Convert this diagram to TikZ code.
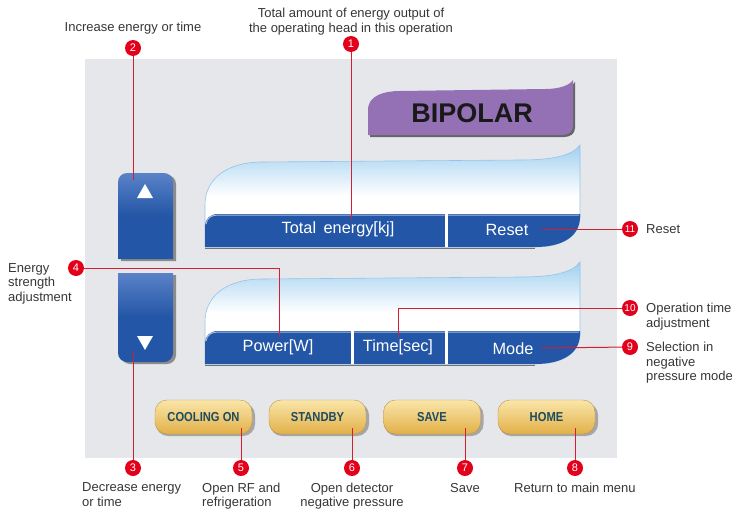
\documentclass[tikz,border=0pt]{standalone}
\usepackage{fontspec}
\setmainfont{Liberation Sans}
\newfontfamily\btnfont[FakeStretch=0.86]{Liberation Sans}
\definecolor{panel}{RGB}{230,231,235}
\definecolor{mred}{RGB}{226,0,26}
\definecolor{lred}{RGB}{214,30,50}
\definecolor{txtgray}{RGB}{55,55,55}
\definecolor{barblue}{RGB}{35,86,166}
\definecolor{btnlight}{RGB}{90,130,200}
\definecolor{dispblue}{RGB}{160,208,240}
\definecolor{dispedge}{RGB}{150,195,232}
\definecolor{purp}{RGB}{148,112,180}
\definecolor{gold1}{RGB}{250,230,170}
\definecolor{gold2}{RGB}{226,176,72}
\definecolor{gold3}{RGB}{190,150,70}
\definecolor{btntext}{RGB}{30,75,95}
\begin{document}
\begin{tikzpicture}[x=1pt,y=-1pt,
  font=\fontsize{13}{14.5}\selectfont,
  marker/.style={circle, fill=mred, inner sep=0pt, minimum size=16pt, text=white, font=\fontsize{11}{11}\selectfont},
  lbl/.style={text=txtgray, inner sep=0pt},
  conn/.style={draw=lred, line width=1pt},
  gbtn/.style={rounded corners=12pt, top color=gold1, bottom color=gold2, draw=gold3, line width=0.4pt, minimum width=97pt, minimum height=34pt, text=btntext, font=\btnfont\bfseries\fontsize{13}{13}\selectfont},
  bartext/.style={text=white, font=\fontsize{16.3}{16}\selectfont, inner sep=0pt},
  shadowc/.style={fill=black!45}
]
\useasboundingbox (0,0) rectangle (735,508);
\fill[white] (0,0) rectangle (735,508);
\fill[panel] (85,59) rectangle (617,458);

% BIPOLAR
\fill[black!60] (370,137) -- (370,112) .. controls (370,97) and (387,93) .. (402,93) -- (547,91) .. controls (562,91) and (572,87) .. (575,82) -- (575,128) .. controls (575,134) and (570,137) .. (564,137) -- cycle;
\fill[purp] (368,135) -- (368,110) .. controls (368,95) and (385,91) .. (400,91) -- (545,89) .. controls (560,89) and (570,85) .. (573,80) -- (573,126) .. controls (573,132) and (568,135) .. (562,135) -- cycle;
\node[inner sep=0pt, text=black!90, font=\bfseries\fontsize{27}{27}\selectfont] (bip) at (472,113) {BIPOLAR};

% displays
\foreach \dy in {0,117} {
\begin{scope}[shift={(0,\dy)}]
\path[top color=dispblue, bottom color=white, middle color=white, draw=dispedge, line width=0.6pt] (205,247) -- (205,205) .. controls (205,178) and (228,162) .. (262,162) -- (520,160) .. controls (552,160) and (572,156) .. (580,145) -- (580,218) .. controls (579,238) and (560,247) .. (535,247) -- cycle;
\fill[barblue] (205,247) -- (205,226) .. controls (205,219) and (210,214) .. (218,214) -- (580,214) -- (580,218) .. controls (579,238) and (560,247) .. (535,247) -- cycle;
\draw[white!60!barblue, line width=1pt] (206,224) .. controls (207,218) and (211,215) .. (218,215) -- (579,215);
\draw[black!55, line width=1.2pt] (205,248.5) -- (535,248.5);
\end{scope}
}
\fill[white] (444.5,214) rectangle (447.5,247);
\fill[white] (444.5,331) rectangle (447.5,364);
\fill[white] (350.5,331) rectangle (353.5,364);

\node[bartext] (te) at (338,229) {Total\hspace{3pt} energy[kj]};
\node[bartext] (rs) at (507,230) {Reset};
\node[bartext] (pw) at (278,347) {Power[W]};
\node[bartext] (tm) at (398,347) {Time[sec]};
\node[bartext] (md) at (513,349) {Mode};

% up / down buttons
\fill[shadowc] (121,261) {[rounded corners=9pt] -- (121,175) -- (176,175)} -- (176,261) -- cycle;
\path[top color=btnlight, bottom color=barblue, middle color=barblue] (118,259) {[rounded corners=9pt] -- (118,173) -- (173,173)} -- (173,259) -- cycle;
\fill[white] (145,184) -- (137,198) -- (153,198) -- cycle;
\fill[shadowc] (121,275) -- (176,275) {[rounded corners=9pt] -- (176,364) -- (121,364)} -- cycle;
\path[top color=btnlight, bottom color=barblue, middle color=barblue] (118,273) -- (173,273) {[rounded corners=9pt] -- (173,362) -- (118,362)} -- cycle;
\fill[white] (137,336) -- (153,336) -- (145,350) -- cycle;

% bottom buttons
\foreach \cx in {203.5,317.5,432,546.5} {
  \fill[black!35, rounded corners=12pt] (\cx-47.5,403) rectangle (\cx+51.5,436);
}
\node[gbtn] (b1) at (203.5,417) {COOLING ON};
\node[gbtn] (b2) at (317.5,417) {STANDBY};
\node[gbtn] (b3) at (432,417) {SAVE};
\node[gbtn] (b4) at (546.5,417) {HOME};

% target points
\coordinate (t1) at (351,220);
\coordinate (t2) at (133,180);
\coordinate (t3) at (133,351);
\coordinate (t4) at (279,337);
\coordinate (t5) at (241,428);
\coordinate (t6) at (352,428);
\coordinate (t7) at (465,428);
\coordinate (t8) at (575,428);
\coordinate (t9) at (542,348);
\coordinate (t10) at (398,337);
\coordinate (t11) at (542,229);

% markers
\node[marker] (m1) at (351,44) {1};
\node[marker] (m2) at (133,48) {2};
\node[marker] (m3) at (133,468) {3};
\node[marker] (m4) at (76,268) {4};
\node[marker] (m5) at (241,468) {5};
\node[marker] (m6) at (352,468) {6};
\node[marker] (m7) at (465,468) {7};
\node[marker] (m8) at (575,468) {8};
\node[marker] (m9) at (630,347) {9};
\node[marker, font=\fontsize{10}{10}\selectfont] (m10) at (630,308) {10};
\node[marker, font=\fontsize{10}{10}\selectfont] (m11) at (630,229) {11};

% connectors
\draw[conn] (m1) -- (t1);
\draw[conn] (m2) -- (t2);
\draw[conn] (m3) -- (t3);
\draw[conn] (m4) -| (t4);
\draw[conn] (m5) -- (t5);
\draw[conn] (m6) -- (t6);
\draw[conn] (m7) -- (t7);
\draw[conn] (m8) -- (t8);
\draw[conn] (m9) -- (t9);
\draw[conn] (m10) -| (t10);
\draw[conn] (m11) -- (t11);

% labels
\node[lbl, anchor=base] (l2) at (133,31.5) {Increase energy or time};
\node[lbl, anchor=north, align=center] (l1) at (351,8) {Total amount of energy output of\\the operating head in this operation};
\node[lbl, anchor=north west, align=left] (l4) at (8,263) {Energy\\strength\\adjustment};
\node[lbl, anchor=north west, align=left] (l3) at (82,482.5) {Decrease energy\\or time};
\node[lbl, anchor=north west, align=left] (l5) at (202,482.5) {Open RF and\\refrigeration};
\node[lbl, anchor=north, align=center] (l6) at (352,482.5) {Open detector\\negative pressure};
\node[lbl, anchor=base] (l7) at (465,492) {Save};
\node[lbl, anchor=base west] (l8) at (514,492) {Return to main menu};
\node[lbl, anchor=base west] (l11) at (646,233.5) {Reset};
\node[lbl, anchor=north west, align=left] (l10) at (646,303) {Operation time\\adjustment};
\node[lbl, anchor=north west, align=left] (l9) at (646,342) {Selection in\\negative\\pressure mode};
\end{tikzpicture}
\end{document}
